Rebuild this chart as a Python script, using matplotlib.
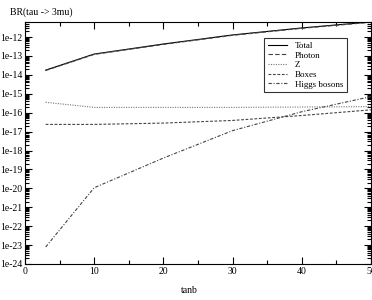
import numpy as np
from matplotlib import pyplot as plt
from matplotlib.ticker import FuncFormatter, LogLocator, MultipleLocator

plt.rcParams['font.family'] = ['Liberation Serif', 'DejaVu Serif']

tanb = [3, 10, 20, 30, 40, 50]
# log10 of the branching ratios
total = [-13.75, -12.90, -12.37, -11.89, -11.52, -11.20]
photon = [-13.77, -12.92, -12.39, -11.91, -11.54, -11.22]
z_part = [-15.45, -15.72, -15.72, -15.72, -15.70, -15.68]
boxes = [-16.62, -16.62, -16.55, -16.41, -16.15, -15.85]
higgs = [-23.10, -19.97, -18.40, -16.95, -15.95, -15.15]

labels = ['Total', 'Photon', 'Z', 'Boxes', 'Higgs bosons']
series = [total, photon, z_part, boxes, higgs]
styles = ['-', (0, (4, 2)), (0, (1, 1.2)), (0, (2.5, 1.5)), (0, (3, 1.5, 1, 1.5))]
colors = ['black', '#444444', '#777777', '#444444', '#444444']

fig = plt.figure(figsize=(3.72, 3.0), dpi=100)
ax = fig.add_axes([0.067, 0.12, 0.93, 0.807])

for ys, lab, ls, c in zip(series, labels, styles, colors):
    ax.plot(tanb, 10.0 ** np.array(ys), linestyle=ls, color=c, lw=0.8, label=lab)

ax.set_yscale('log')
ax.set_xlim(0, 50)
ax.set_ylim(1e-24, 10 ** -11.2)

ax.xaxis.set_major_locator(MultipleLocator(10))
ax.xaxis.set_minor_locator(MultipleLocator(5))
ax.yaxis.set_major_locator(LogLocator(base=10, numticks=30))
ax.yaxis.set_minor_locator(LogLocator(base=10, subs=np.arange(2, 10), numticks=30))
ax.yaxis.set_major_formatter(FuncFormatter(lambda v, p: '1e%d' % round(np.log10(v))))

ax.tick_params(which='both', direction='in', top=True, right=True, labelsize=7, width=0.8, pad=2)
ax.tick_params(which='major', length=5)
ax.tick_params(which='minor', length=3)
for s in ax.spines.values():
    s.set_linewidth(0.8)

leg = ax.legend(loc='upper left', bbox_to_anchor=(0.678, 0.952), fontsize=6.5,
                frameon=True, fancybox=False, edgecolor='black', handlelength=2.2,
                labelspacing=0.15, borderpad=0.4, handletextpad=0.8)
leg.get_frame().set_linewidth(0.8)

fig.text(0.027, 0.96, 'BR(tau -> 3mu)', fontsize=7, va='center')
fig.text(0.51, 0.033, 'tanb', fontsize=7, ha='center', va='center')

fig.savefig('out.png', dpi=100)
